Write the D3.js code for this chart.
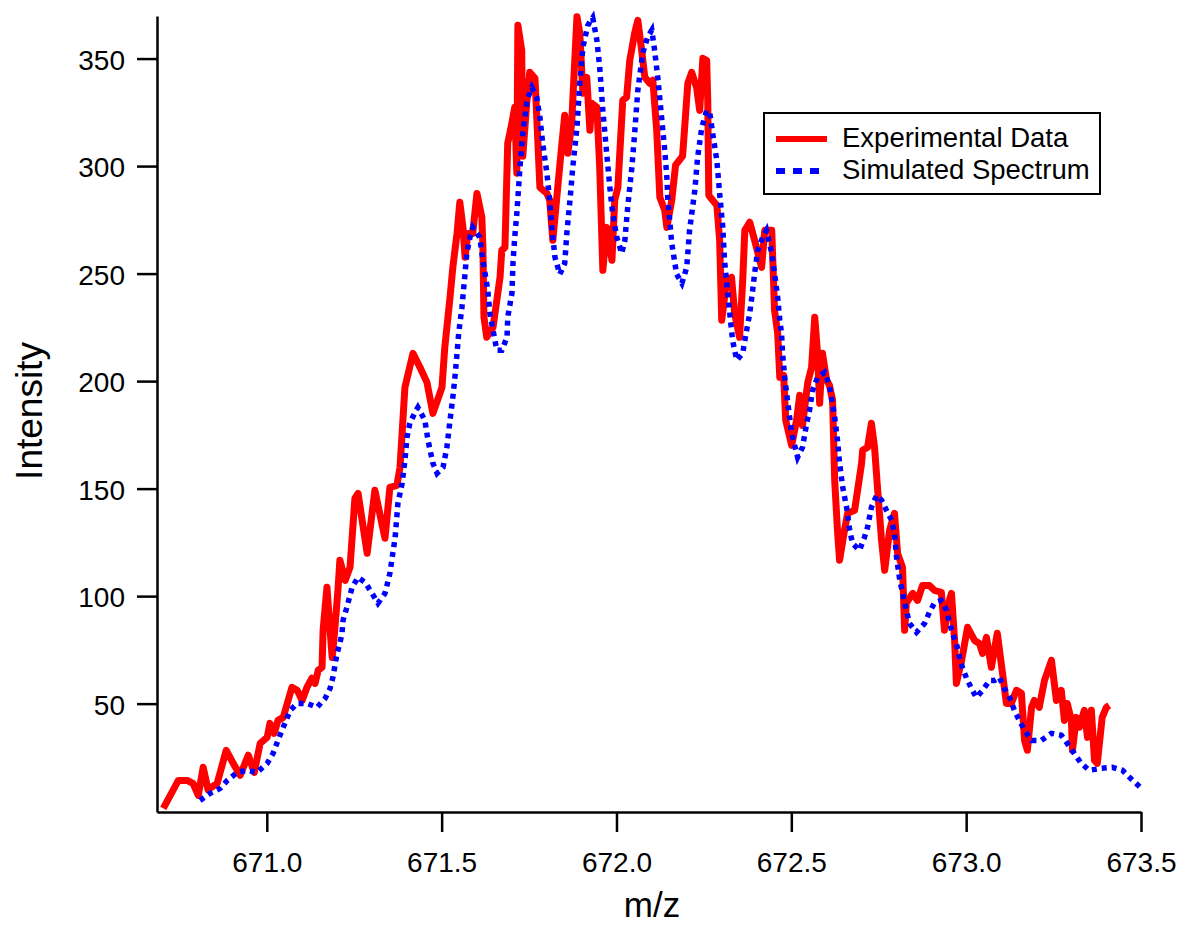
<!DOCTYPE html>
<html>
<head>
<meta charset="utf-8">
<script src="https://cdn.jsdelivr.net/npm/d3@7"></script>
<style>
  html, body { margin: 0; padding: 0; background: #fff; }
  svg { display: block; }
  text { font-family: "Liberation Sans", Arial, sans-serif; fill: #000; }
</style>
</head>
<body>
<svg id="chart" width="1182" height="926"></svg>
<script>
// ---- data ----
const expMz = [670.704,670.724,670.747,670.772,670.789,670.804,670.818,670.832,670.858,670.884,670.904,670.924,670.947,670.964,670.981,671.001,671.009,671.021,671.032,671.047,671.061,671.072,671.087,671.101,671.115,671.129,671.138,671.147,671.158,671.161,671.172,671.181,671.187,671.195,671.204,671.209,671.224,671.238,671.252,671.261,671.287,671.309,671.338,671.352,671.372,671.381,671.395,671.418,671.438,671.458,671.475,671.501,671.509,671.524,671.532,671.544,671.552,671.561,671.567,671.575,671.589,671.601,671.615,671.618,671.621,671.629,671.647,671.667,671.672,671.681,671.689,671.701,671.709,671.715,671.718,671.729,671.732,671.744,671.752,671.767,671.772,671.781,671.801,671.809,671.818,671.832,671.844,671.852,671.861,671.872,671.875,671.887,671.895,671.904,671.915,671.924,671.929,671.944,671.952,671.961,671.972,671.987,671.995,672.004,672.018,672.029,672.038,672.052,672.061,672.072,672.081,672.095,672.104,672.115,672.124,672.138,672.144,672.158,672.169,672.189,672.195,672.204,672.215,672.229,672.238,672.247,672.258,672.261,672.264,672.275,672.287,672.295,672.301,672.315,672.329,672.338,672.352,672.361,672.367,672.381,672.395,672.415,672.424,672.444,672.452,672.461,672.467,672.478,672.484,672.501,672.515,672.524,672.532,672.547,672.558,672.567,672.575,672.581,672.589,672.601,672.609,672.618,672.624,672.632,672.638,672.652,672.661,672.681,672.701,672.704,672.718,672.729,672.738,672.747,672.758,672.767,672.781,672.795,672.804,672.818,672.824,672.829,672.847,672.861,672.875,672.895,672.909,672.929,672.938,672.952,672.958,672.967,672.972,672.987,673.004,673.024,673.038,673.047,673.058,673.072,673.089,673.104,673.115,673.129,673.144,673.158,673.167,673.175,673.187,673.195,673.209,673.224,673.244,673.258,673.272,673.281,673.289,673.301,673.304,673.315,673.324,673.338,673.347,673.358,673.367,673.375,673.389,673.401,673.409];
const expIntensity = [1.3,7.3,14.3,14.3,12.9,7.3,20.4,10.0,12.9,28.3,22.2,16.7,26.0,18.0,31.5,34.3,40.8,36.2,42.2,43.6,51.5,57.6,56.2,51.5,57.6,61.8,59.4,65.5,66.9,84.1,104.1,84.1,71.5,85.5,104.1,116.7,107.3,113.4,145.5,147.8,119.9,149.2,126.9,150.6,151.5,159.9,197.1,212.9,206.4,199.4,185.0,197.1,215.7,238.9,252.9,268.7,283.2,271.5,257.6,268.7,268.7,287.3,276.2,262.2,229.7,220.4,225.0,248.3,260.8,262.2,310.6,320.0,327.3,296.7,365.5,353.9,304.6,330.6,343.6,340.8,322.7,290.1,287.3,284.1,265.5,290.1,310.6,323.6,306.0,320.0,330.6,369.5,361.8,333.9,341.3,316.7,329.2,327.3,299.5,251.5,271.5,256.2,284.1,290.1,330.6,332.0,349.2,361.8,367.8,353.9,341.3,338.5,339.9,316.7,285.5,279.4,271.5,284.1,300.4,304.6,318.0,338.5,343.6,336.6,325.9,350.1,349.2,330.6,286.4,284.1,281.8,265.5,228.3,246.9,248.3,231.5,220.4,246.9,270.1,273.9,265.5,252.9,270.1,270.1,233.0,222.2,201.8,202.7,181.8,170.1,181.8,193.4,179.4,199.4,206.4,229.7,212.9,189.7,212.9,200.4,198.1,191.1,153.9,130.6,116.7,130.6,138.5,139.9,161.8,167.8,169.2,180.4,169.2,149.2,126.0,112.0,130.6,138.5,119.9,113.4,84.1,96.7,101.3,98.0,104.9,104.9,102.7,101.8,84.1,98.0,101.3,79.4,59.4,70.1,85.5,79.4,78.0,73.4,80.8,66.9,82.7,64.1,50.1,50.1,56.2,54.8,32.9,28.3,48.3,51.5,48.3,60.8,70.1,51.5,56.2,42.2,50.1,42.2,28.3,43.6,39.0,46.9,34.3,46.9,23.6,22.2,43.6,48.3,49.2];

const simMz = [670.809,670.838,670.867,670.887,670.915,670.944,670.972,671.001,671.018,671.032,671.047,671.067,671.087,671.115,671.144,671.167,671.181,671.189,671.195,671.201,671.209,671.215,671.218,671.229,671.244,671.261,671.281,671.301,671.318,671.338,671.352,671.367,671.375,671.387,671.395,671.401,671.409,671.424,671.432,671.452,671.461,671.475,671.487,671.504,671.515,671.524,671.532,671.538,671.544,671.549,671.558,671.567,671.572,671.581,671.589,671.609,671.618,671.632,671.638,671.647,671.658,671.672,671.687,671.689,671.701,671.704,671.709,671.715,671.724,671.732,671.744,671.758,671.772,671.781,671.789,671.801,671.809,671.815,671.824,671.838,671.852,671.858,671.867,671.875,671.887,671.895,671.904,671.918,671.932,671.944,671.952,671.961,671.972,671.981,671.989,672.001,672.015,672.024,672.032,672.044,672.052,672.061,672.075,672.089,672.101,672.109,672.118,672.129,672.138,672.144,672.147,672.158,672.172,672.187,672.201,672.209,672.224,672.232,672.244,672.258,672.267,672.275,672.287,672.295,672.304,672.309,672.318,672.324,672.332,672.344,672.361,672.367,672.381,672.387,672.395,672.404,672.418,672.429,672.444,672.452,672.461,672.467,672.472,672.475,672.481,672.489,672.501,672.518,672.532,672.544,672.552,672.561,672.575,672.595,672.609,672.624,672.632,672.638,672.647,672.658,672.667,672.675,672.695,672.709,672.718,672.729,672.744,672.758,672.772,672.787,672.795,672.801,672.809,672.818,672.829,672.838,672.858,672.881,672.895,672.909,672.929,672.944,672.952,672.961,672.972,672.981,672.989,673.001,673.015,673.029,673.047,673.067,673.081,673.095,673.109,673.124,673.138,673.152,673.167,673.187,673.215,673.244,673.272,673.289,673.309,673.329,673.352,673.387,673.418,673.447,673.467,673.498];
const simIntensity = [5.0,8.3,10.6,14.3,18.0,19.0,18.0,22.2,26.9,32.9,39.0,46.9,50.1,50.1,48.3,52.5,57.1,62.2,67.8,73.4,78.0,82.7,88.7,94.8,104.1,108.7,106.4,101.3,96.7,101.3,110.6,127.3,143.2,152.5,163.2,173.9,180.4,185.5,187.8,181.8,172.5,161.8,157.1,159.9,169.2,181.8,192.5,201.8,212.9,222.7,234.3,250.1,259.4,266.9,271.5,266.9,256.2,242.2,231.5,223.6,214.3,214.3,220.4,229.7,240.8,254.8,266.9,278.0,299.4,315.3,330.6,336.6,332.0,322.7,310.6,296.7,284.1,271.5,257.6,249.7,254.8,268.7,284.1,299.4,318.0,338.5,355.3,365.5,369.0,358.5,345.9,325.9,305.9,290.1,278.0,266.9,259.4,265.5,280.7,299.4,315.3,335.2,352.5,359.9,363.2,353.9,341.3,322.7,307.3,294.9,284.1,264.1,249.7,245.5,253.0,270.1,288.7,304.0,318.0,325.9,324.6,315.3,302.6,287.3,271.5,256.2,240.8,231.5,218.9,209.7,212.9,218.9,231.5,238.9,250.1,260.8,266.9,270.1,259.4,250.1,238.9,228.3,222.2,212.9,201.8,191.1,175.7,164.6,169.2,180.4,186.4,195.7,201.8,204.1,198.0,183.2,172.5,161.8,150.6,141.3,130.6,124.5,121.3,127.3,132.0,141.3,146.9,144.6,139.9,135.3,129.2,118.0,108.7,101.3,93.4,87.3,83.2,87.3,92.5,96.7,98.0,93.4,87.8,82.7,78.0,71.5,66.9,61.8,57.1,52.9,56.2,60.8,60.8,62.2,57.1,52.9,46.9,42.2,37.6,32.9,32.9,36.2,35.3,31.5,26.9,22.2,19.0,19.9,20.4,19.0,15.7,11.1];

const xTicks = [671.0, 671.5, 672.0, 672.5, 673.0, 673.5];
const yTicks = [50, 100, 150, 200, 250, 300, 350];
const seriesNames = ["Experimental Data", "Simulated Spectrum"];
const xTitle = "m/z";
const yTitle = "Intensity";

// ---- chart ----
const svg = d3.select("#chart");
const plotLeft = 157, plotRight = 1141, plotTop = 16, plotBottom = 812;

const x = d3.scaleLinear().domain([670.686, 673.5]).range([plotLeft, plotRight]);
const y = d3.scaleLinear().domain([-0.4, 369.8]).range([plotBottom, plotTop]);

const expData = expMz.map((m, i) => [m, expIntensity[i]]);
const simData = simMz.map((m, i) => [m, simIntensity[i]]);

const line = d3.line().x(d => x(d[0])).y(d => y(d[1]));

svg.append("path").datum(expData)
  .attr("d", line).attr("fill", "none")
  .attr("stroke", "#ff0000").attr("stroke-width", 7)
  .attr("stroke-linejoin", "round").attr("stroke-linecap", "butt");

svg.append("path").datum(simData)
  .attr("d", line).attr("fill", "none")
  .attr("stroke", "#0000ff").attr("stroke-width", 5.5)
  .attr("stroke-dasharray", "5,5");

// axes
const xAxis = d3.axisBottom(x).tickValues(xTicks).tickFormat(d3.format(".1f"))
  .tickSize(20).tickSizeOuter(0).tickPadding(20);
const yAxis = d3.axisLeft(y).tickValues(yTicks).tickFormat(d3.format("d"))
  .tickSize(20).tickSizeOuter(0).tickPadding(12);

const gx = svg.append("g").attr("transform", `translate(0,${plotBottom})`).call(xAxis);
const gy = svg.append("g").attr("transform", `translate(${plotLeft},0)`).call(yAxis);

[gx, gy].forEach(g => {
  g.select(".domain").attr("stroke", "#000").attr("stroke-width", 2.5);
  g.selectAll(".tick line").attr("stroke", "#000").attr("stroke-width", 2.5);
  g.selectAll(".tick text").attr("font-size", 28)
    .attr("font-family", "Liberation Sans, Arial, sans-serif").attr("fill", "#000");
});
gy.selectAll(".tick text").attr("dy", "0.38em");

// axis titles
svg.append("text").attr("x", 652).attr("y", 917).attr("text-anchor", "middle")
  .attr("font-size", 35).text(xTitle);
svg.append("text").attr("transform", "translate(42,411) rotate(-90)")
  .attr("text-anchor", "middle").attr("font-size", 37).text(yTitle);

// legend
const lg = svg.append("g");
lg.append("rect").attr("x", 764).attr("y", 113).attr("width", 336).attr("height", 81)
  .attr("fill", "#fff").attr("stroke", "#000").attr("stroke-width", 2);
lg.append("line").attr("x1", 776).attr("x2", 827).attr("y1", 139).attr("y2", 139)
  .attr("stroke", "#ff0000").attr("stroke-width", 6);
lg.append("line").attr("x1", 776).attr("x2", 827).attr("y1", 171).attr("y2", 171)
  .attr("stroke", "#0000ff").attr("stroke-width", 6).attr("stroke-dasharray", "9,8");
lg.append("text").attr("x", 842).attr("y", 147).attr("font-size", 27.5).text(seriesNames[0]);
lg.append("text").attr("x", 842).attr("y", 179).attr("font-size", 27.5).text(seriesNames[1]);
</script>
</body>
</html>
